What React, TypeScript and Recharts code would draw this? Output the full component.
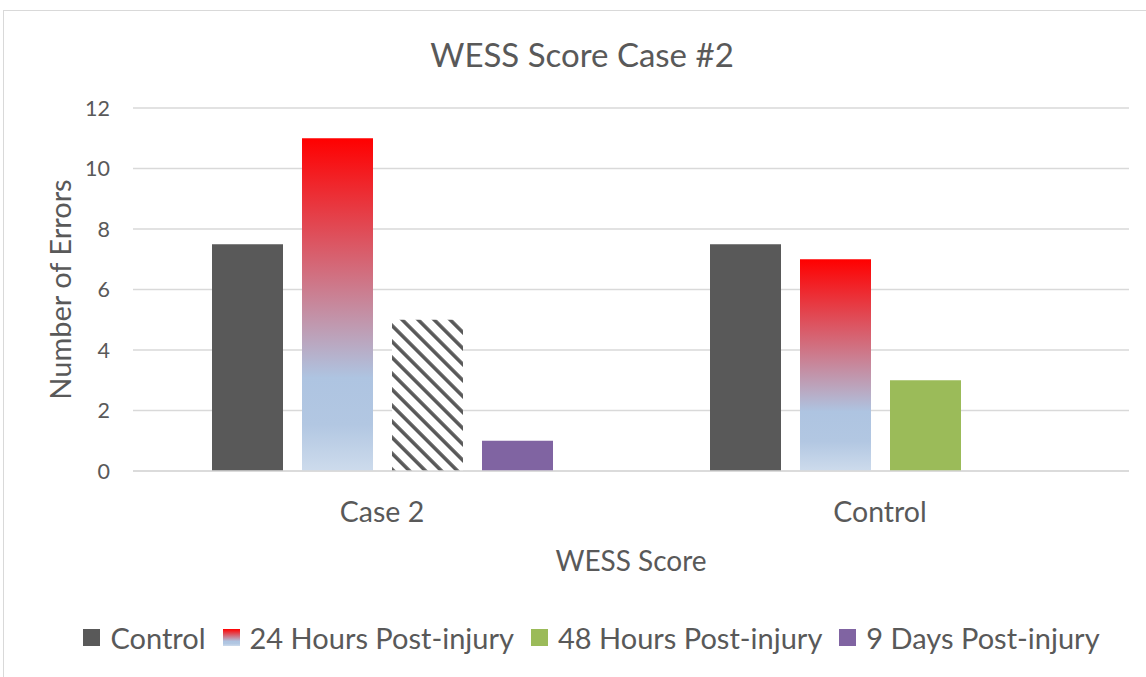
import { BarChart, Bar, XAxis, YAxis, CartesianGrid, Legend, Cell } from "recharts";

const FONT = "Lato, 'Open Sans', sans-serif";
const TEXT = "#595959";

const categories = ["Case 2", "Control"];
const seriesNames = ["Control", "24 Hours Post-injury", "48 Hours Post-injury", "9 Days Post-injury"];
const controlValues = [7.5, 7.5];
const hours24Values = [11, 7];
const hours48Values = [5, 3];
const days9Values = [1, 0];
// the 48h bar of "Case 2" is drawn with a hatch instead of the green fill
const hatched48 = [true, false];
const yTicks = [0, 2, 4, 6, 8, 10, 12];

const data = categories.map((name, i) => ({
  name,
  control: controlValues[i],
  h24: hours24Values[i],
  h48: hours48Values[i],
  d9: days9Values[i],
}));

const LegendContent = ({ payload }: any) => {
  const items = [...(payload || [])].sort(
    (a: any, b: any) => seriesNames.indexOf(a.value) - seriesNames.indexOf(b.value)
  );
  return (
    <div style={{ display: "flex", justifyContent: "center", alignItems: "center", fontFamily: FONT, fontSize: 29, color: TEXT }}>
      {items.map((p: any) => (
        <div key={p.value} style={{ display: "flex", alignItems: "center", marginRight: 17 }}>
          <svg width={17} height={17} style={{ marginRight: 10 }}>
            <rect width={17} height={17} fill={p.color} />
          </svg>
          <span>{p.value}</span>
        </div>
      ))}
    </div>
  );
};

const YLabel = ({ viewBox }: any) => {
  const cx = viewBox.x + 59;
  const cy = viewBox.y + viewBox.height / 2;
  return (
    <text x={cx} y={cy} transform={`rotate(-90, ${cx}, ${cy})`} textAnchor="middle" dominantBaseline="central"
      fill={TEXT} fontFamily={FONT} fontSize={29}>
      Number of Errors
    </text>
  );
};

export default function App() {
  return (
    <div style={{ position: "absolute", left: 0, top: 0, width: 1146, height: 677, background: "#fff" }}>
      <div style={{ position: "absolute", left: 3, top: 10, width: 1143, height: 680, border: "1px solid #d9d9d9" }} />
      <div style={{ position: "absolute", left: 0, top: 34, width: 1164, textAlign: "center", fontFamily: FONT, fontSize: 33, color: TEXT }}>
        WESS Score Case #2
      </div>
      <BarChart width={1146} height={677} data={data} margin={{ top: 108, right: 17, bottom: 0, left: 0 }}
        barCategoryGap={79} barGap={19}>
        <defs>
          <linearGradient id="grad24" x1="0" y1="0" x2="0" y2="1">
            <stop offset="0" stopColor="#ff0000" />
            <stop offset="0.72" stopColor="#aec4e1" />
            <stop offset="0.86" stopColor="#b2c7e2" />
            <stop offset="1" stopColor="#cddbec" />
          </linearGradient>
          <pattern id="hatch" width="11.3" height="11.3" patternUnits="userSpaceOnUse" patternTransform="rotate(-45)">
            <rect width="11.3" height="11.3" fill="#ffffff" />
            <rect width="3.6" height="11.3" fill={TEXT} />
          </pattern>
        </defs>
        <CartesianGrid vertical={false} stroke="#d9d9d9" strokeWidth={1.5} />
        <XAxis dataKey="name" height={206} axisLine={{ stroke: "#d9d9d9", strokeWidth: 1.5 }} tickLine={false}
          tickMargin={25} tick={{ fill: TEXT, fontFamily: FONT, fontSize: 28.5 }}
          label={{ value: "WESS Score", position: "insideBottom", offset: 106, fill: TEXT, fontFamily: FONT, fontSize: 28 }} />
        <YAxis width={133} domain={[0, 12]} ticks={yTicks} axisLine={false} tickLine={false} tickMargin={17}
          tick={{ fill: TEXT, fontFamily: FONT, fontSize: 21.5 }} label={<YLabel />} />
        <Legend layout="horizontal" verticalAlign="middle" align="center" content={<LegendContent />}
          wrapperStyle={{ top: 620, left: 14, width: 1172, height: 34 }} />
        <Bar dataKey="control" name={seriesNames[0]} fill="#595959" isAnimationActive={false} />
        <Bar dataKey="h24" name={seriesNames[1]} fill="url(#grad24)" isAnimationActive={false} />
        <Bar dataKey="h48" name={seriesNames[2]} fill="#9bbb59" isAnimationActive={false}>
          {data.map((d, i) => (
            <Cell key={d.name} fill={hatched48[i] ? "url(#hatch)" : "#9bbb59"} />
          ))}
        </Bar>
        <Bar dataKey="d9" name={seriesNames[3]} fill="#8064a2" isAnimationActive={false} />
      </BarChart>
    </div>
  );
}
